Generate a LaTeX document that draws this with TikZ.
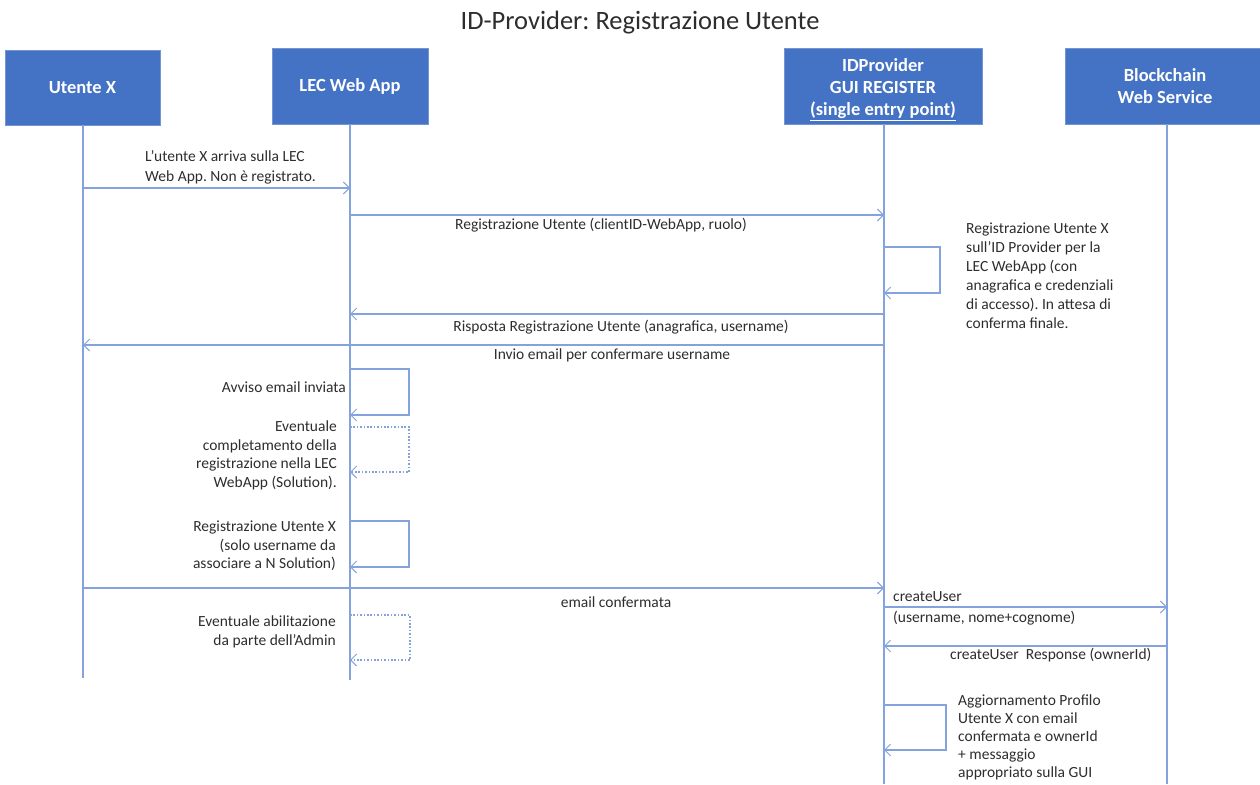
\documentclass[tikz,border=0pt]{standalone}
\usepackage{fontspec}
\setmainfont{Carlito}
\usetikzlibrary{arrows.meta}
\definecolor{hdrblue}{RGB}{68,114,196}
\definecolor{lineblue}{RGB}{132,162,220}
\definecolor{txtgray}{RGB}{45,45,45}
\frenchspacing

\begin{document}
\begin{tikzpicture}[x=1pt,y=-1pt,
  hdr/.style={fill=hdrblue,draw=hdrblue!75!white,line width=0.8pt,text=white,
    font=\fontsize{18.5}{22}\selectfont\bfseries,align=center,inner sep=0pt},
  life/.style={draw=lineblue,line width=1.1pt},
  msg/.style={draw=lineblue,line width=1.1pt,
    -{Straight Barb[length=6pt,width=12pt,line width=1pt]}},
  dmsg/.style={msg,dash pattern=on 1.6pt off 1.8pt},
  lbl/.style={text=txtgray,font=\fontsize{15.5}{19}\selectfont,inner sep=0pt},
]
\useasboundingbox (0,0) rectangle (1260,784);

% title
\node[text=txtgray,font=\fontsize{26.5}{30}\selectfont] (title) at (640,23)
  {ID-Provider: Registrazione Utente};

% participants
\node[hdr,minimum width=155pt,minimum height=75pt] (u) at (82.5,87.5) {Utente X};
\node[hdr,minimum width=156pt,minimum height=76pt] (l) at (350,86) {LEC Web App};
\node[hdr,minimum width=198pt,minimum height=76pt] (i) at (883,86)
  {\rule{0pt}{19.5pt}IDProvider\\GUI REGISTER\\\underline{(single entry point)}};
\node[hdr,minimum width=200pt,minimum height=76pt] (b) at (1165,86)
  {Blockchain\\Web Service};

% lifelines
\coordinate (uEnd) at (83,678);
\coordinate (lEnd) at (350,680);
\coordinate (iEnd) at (884,784);
\coordinate (bEnd) at (1167,784);
\draw[life] (u.south -| uEnd) -- (uEnd);
\draw[life] (l.south -| lEnd) -- (lEnd);
\draw[life] (i.south -| iEnd) -- (iEnd);
\draw[life] (b.south -| bEnd) -- (bEnd);

% message heights
\coordinate (m1) at (0,188);
\coordinate (m2) at (0,215);
\coordinate (m3) at (0,314);
\coordinate (m4) at (0,345);
\coordinate (m5) at (0,588);
\coordinate (m6) at (0,607);
\coordinate (m7) at (0,646);

% messages
\draw[msg] (uEnd |- m1) -- (lEnd |- m1);
\draw[msg] (lEnd |- m2) -- (iEnd |- m2);
\draw[msg] (iEnd |- m3) -- (lEnd |- m3);
\draw[msg] (iEnd |- m4) -- (uEnd |- m4);
\draw[msg] (uEnd |- m5) -- (iEnd |- m5);
\draw[msg] (iEnd |- m6) -- (bEnd |- m6);
\draw[msg] (bEnd |- m7) -- (iEnd |- m7);

% self calls
\coordinate (s1a) at (0,247); \coordinate (s1b) at (0,293);
\coordinate (s2a) at (0,369); \coordinate (s2b) at (0,415);
\coordinate (s3a) at (0,427); \coordinate (s3b) at (0,472);
\coordinate (s4a) at (0,521); \coordinate (s4b) at (0,567);
\coordinate (s5a) at (0,615); \coordinate (s5b) at (0,660);
\coordinate (s6a) at (0,705); \coordinate (s6b) at (0,750);
\draw[msg]  (iEnd |- s1a) -- ++(56,0) |- (iEnd |- s1b);
\draw[msg]  (lEnd |- s2a) -- ++(59,0) |- (lEnd |- s2b);
\draw[dmsg] (lEnd |- s3a) -- ++(59,0) |- (lEnd |- s3b);
\draw[msg]  (lEnd |- s4a) -- ++(59,0) |- (lEnd |- s4b);
\draw[dmsg] (lEnd |- s5a) -- ++(60,0) |- (lEnd |- s5b);
\draw[msg]  (iEnd |- s6a) -- ++(62,0) |- (iEnd |- s6b);

% labels
\node[lbl,anchor=north west,align=left,font=\fontsize{15.5}{20}\selectfont] (t1) at (145,150)
  {L’utente X arriva sulla LEC\\Web App. Non è registrato.};
\node[lbl] (t2) at (601,225) {Registrazione Utente (clientID-WebApp, ruolo)};
\node[lbl,anchor=north west,align=left] (t3) at (966,223)
  {Registrazione Utente X\\sull’ID Provider per la\\LEC WebApp (con\\anagrafica e credenziali\\di accesso). In attesa di\\conferma finale.};
\node[lbl] (t4) at (621,327) {Risposta Registrazione Utente (anagrafica, username)};
\node[lbl] (t5) at (612,355) {Invio email per confermare username};
\node[lbl,anchor=east] (t6) at (346,387) {Avviso email inviata};
\node[lbl,anchor=north east,align=right,font=\fontsize{15.5}{18.5}\selectfont] (t7) at (337,421)
  {Eventuale\\completamento della\\registrazione nella LEC\\WebApp (Solution).};
\node[lbl,anchor=north east,align=right,font=\fontsize{15.5}{18.5}\selectfont] (t8) at (336,521)
  {Registrazione Utente X\\(solo username da\\associare a N Solution)};
\node[lbl] (t9) at (616,602) {email confermata};
\node[lbl,anchor=north east,align=right,font=\fontsize{15.5}{18.5}\selectfont] (t10) at (336,616)
  {Eventuale abilitazione\\da parte dell’Admin};
\node[lbl,anchor=north west,align=left,font=\fontsize{15.5}{21}\selectfont] (t11) at (893,591)
  {createUser\\(username, nome+cognome)};
\node[lbl,anchor=west] (t12) at (950,655) {createUser~ Response (ownerId)};
\node[lbl,anchor=north west,align=left,font=\fontsize{15.5}{18}\selectfont] (t13) at (958,695)
  {Aggiornamento Profilo\\Utente X con email\\confermata e ownerId\\+ messaggio\\appropriato sulla GUI};
\end{tikzpicture}
\end{document}
